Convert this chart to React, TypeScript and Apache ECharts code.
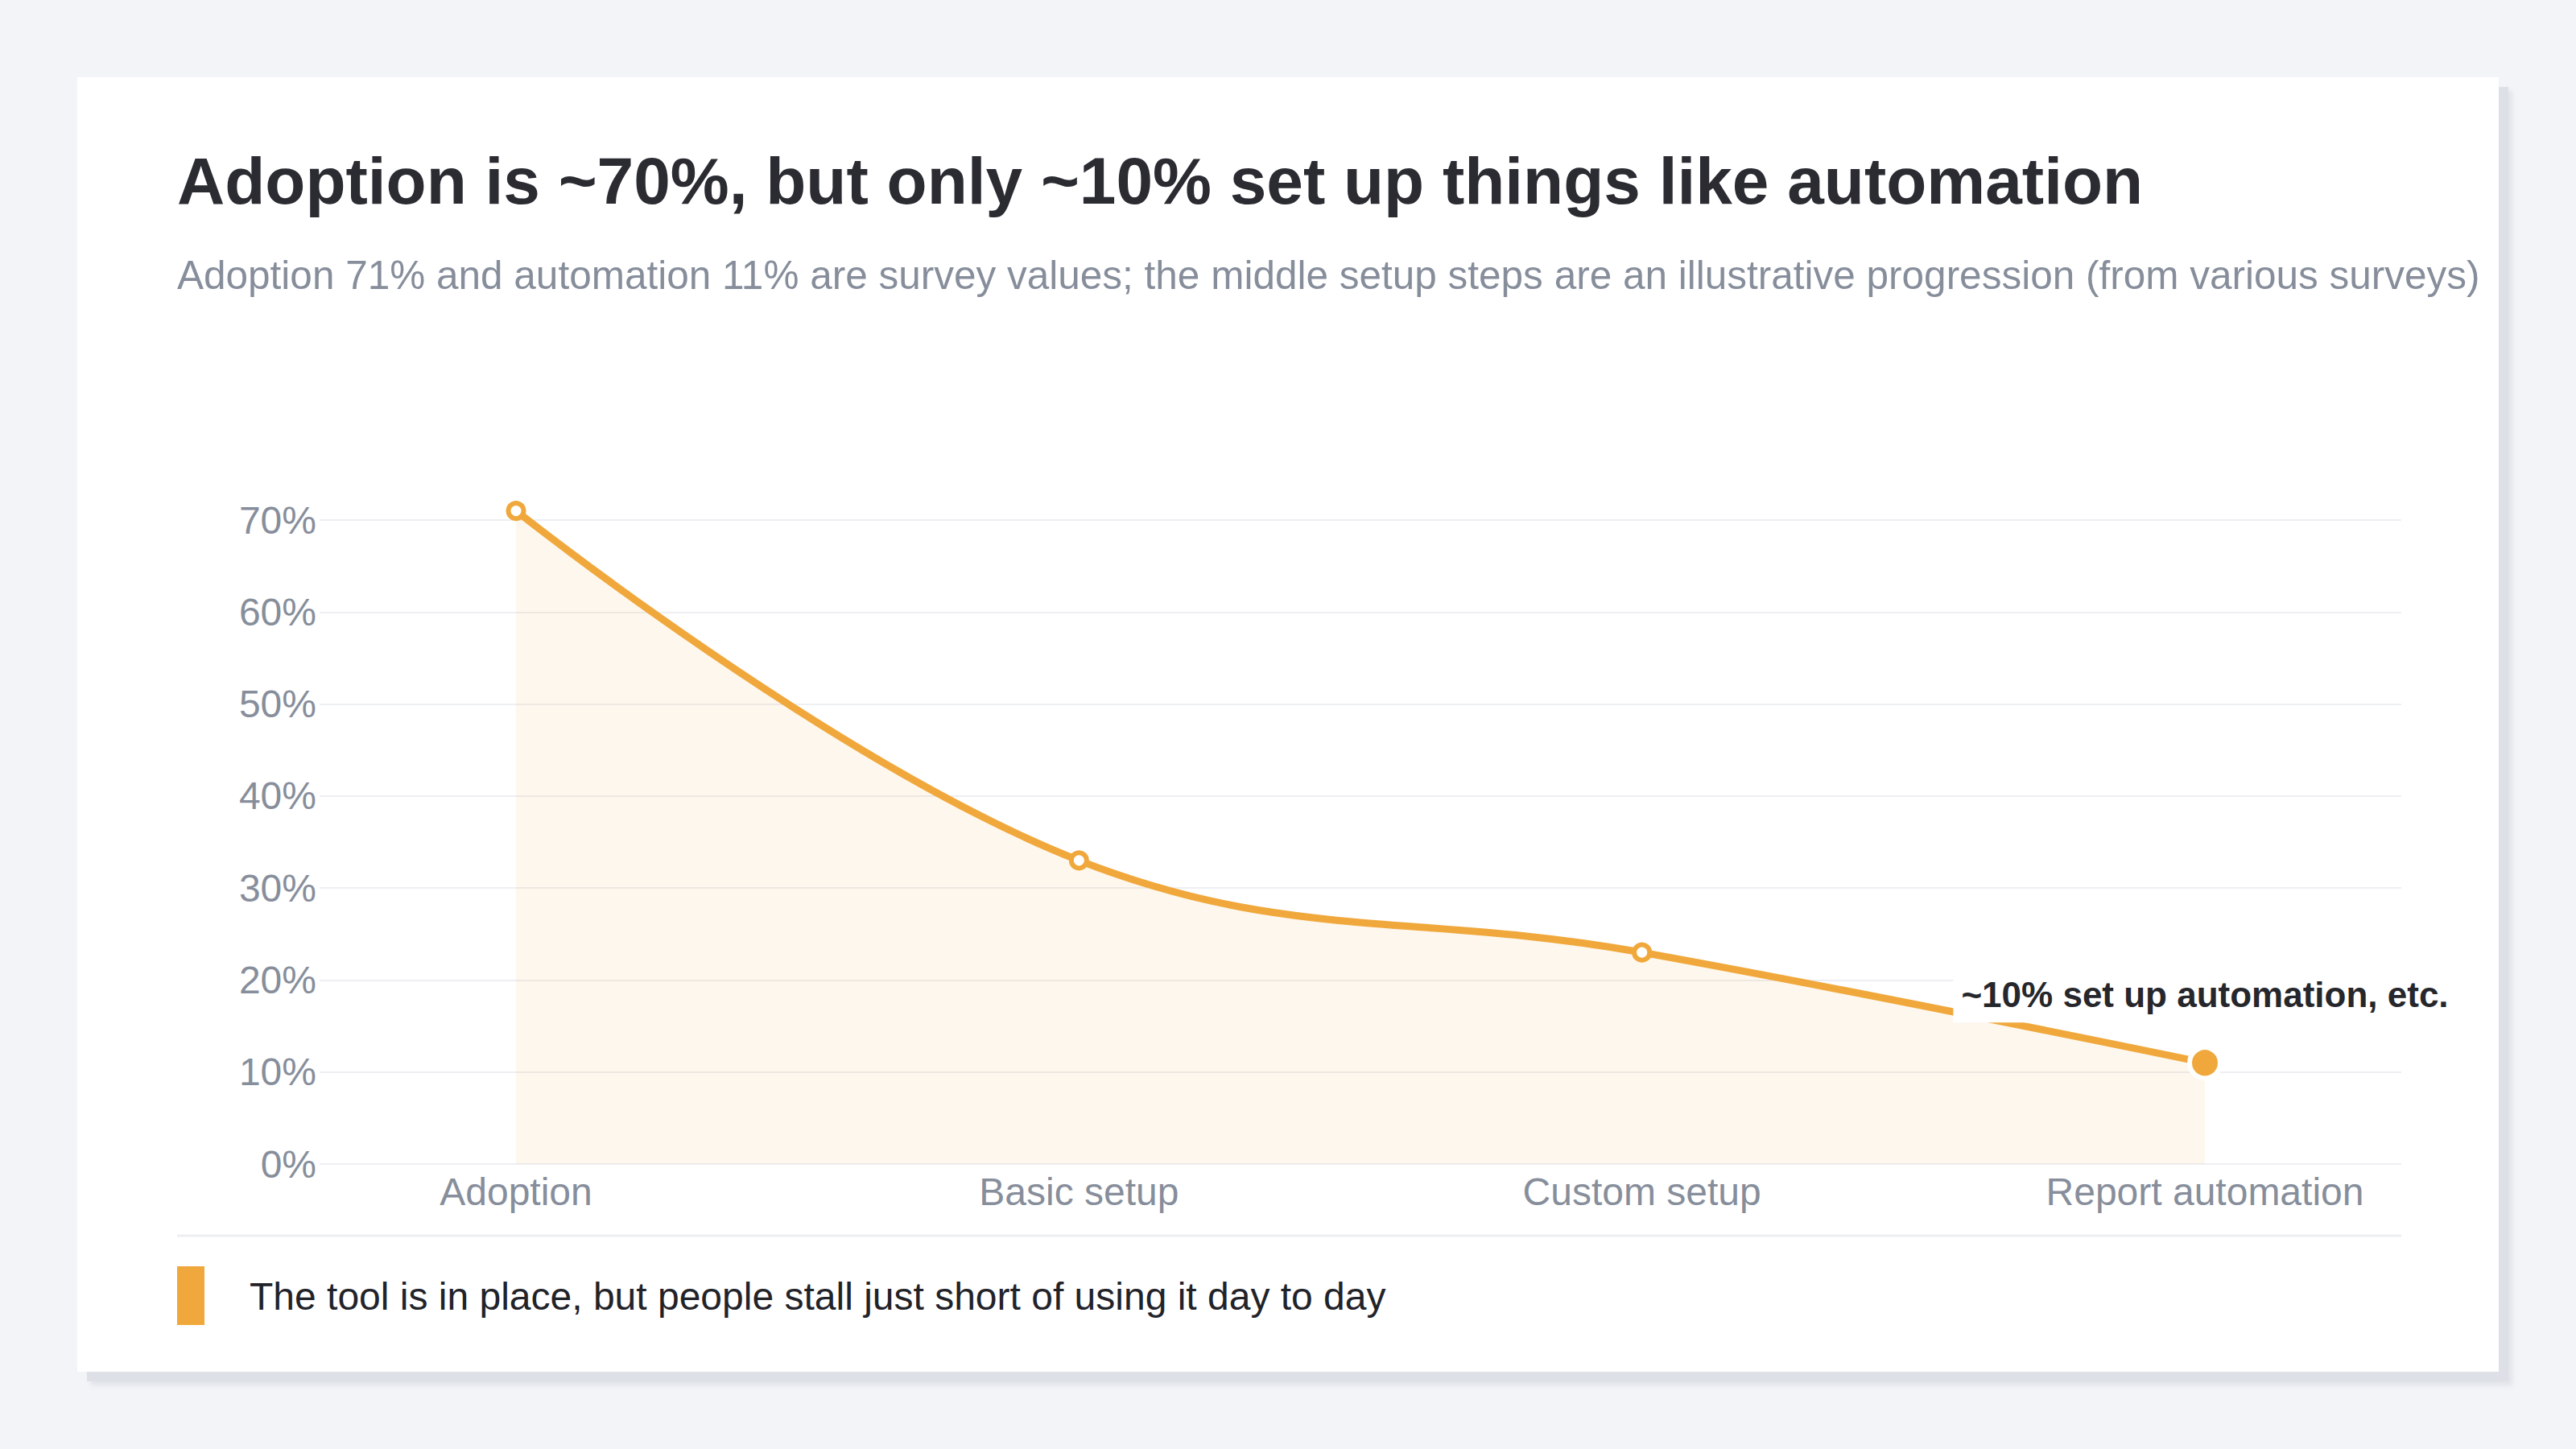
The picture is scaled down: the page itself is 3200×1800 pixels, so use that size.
import React, { useEffect, useRef } from "react";
import * as echarts from "echarts";

const categories = ["Adoption", "Basic setup", "Custom setup", "Report automation"];
const values = [71, 33, 23, 11];
const yTicks = [0, 10, 20, 30, 40, 50, 60, 70];
const titleText = "Adoption is ~70%, but only ~10% set up things like automation";
const subtitleText =
  "Adoption 71% and automation 11% are survey values; the middle setup steps are an illustrative progression (from various surveys)";
const legendText = "The tool is in place, but people stall just short of using it day to day";
const annotationText = "~10% set up automation, etc.";

const FONT = "'Liberation Sans', Arial, Helvetica, sans-serif";
const ORANGE = "#f0a83c";
const GRAY = "#878e9b";
const DARK = "#2a2c32";

export default function App() {
  const ref = useRef<HTMLDivElement>(null);

  useEffect(() => {
    if (!ref.current) return;
    const chart = echarts.init(ref.current, undefined, { renderer: "svg" });
    const last = values.length - 1;
    const yMin = yTicks[0];
    const yMax = yTicks[yTicks.length - 1];
    const yInterval = yTicks[1] - yTicks[0];

    const seriesData = values.map((v, i) =>
      i === last
        ? {
            value: v,
            symbol: "circle",
            symbolSize: 38,
            itemStyle: { color: ORANGE, borderColor: "#ffffff", borderWidth: 6 },
            label: {
              show: true,
              position: "top",
              distance: 35,
              formatter: "{c}",
              color: "rgba(240,168,60,0.16)",
              fontSize: 64,
              fontWeight: "bold",
              fontFamily: FONT,
            },
          }
        : v
    );

    chart.setOption({
      animation: false,
      backgroundColor: "#ffffff",
      grid: [
        { left: 301, right: 121, top: 550, bottom: 258 },
        { left: 545, right: 365, top: 550, bottom: 258 },
      ],
      xAxis: [
        { gridIndex: 0, type: "category", data: categories, show: false },
        {
          gridIndex: 1,
          type: "category",
          data: categories,
          boundaryGap: false,
          axisLine: { show: false },
          axisTick: { show: false },
          splitLine: { show: false },
          axisLabel: {
            margin: 10,
            color: GRAY,
            fontSize: 48,
            fontFamily: FONT,
            interval: 0,
          },
        },
      ],
      yAxis: [
        {
          gridIndex: 0,
          type: "value",
          min: yMin,
          max: yMax,
          interval: yInterval,
          axisLine: { show: false },
          axisTick: { show: false },
          axisLabel: {
            formatter: "{value}%",
            margin: 4,
            color: GRAY,
            fontSize: 48,
            fontFamily: FONT,
          },
          splitLine: { lineStyle: { color: "#edeff3", width: 2 } },
        },
        {
          gridIndex: 1,
          type: "value",
          min: yMin,
          max: yMax,
          interval: yInterval,
          show: false,
        },
      ],
      graphic: [
        {
          type: "text",
          x: 124,
          y: 128,
          style: {
            text: titleText,
            fill: DARK,
            font: `bold 82px ${FONT}`,
            verticalAlign: "middle",
            align: "left",
          },
        },
        {
          type: "text",
          x: 124,
          y: 245,
          style: {
            text: subtitleText,
            fill: GRAY,
            font: `49.5px ${FONT}`,
            verticalAlign: "middle",
            align: "left",
          },
        },
        {
          type: "line",
          shape: { x1: 124, y1: 1439, x2: 2887, y2: 1439 },
          style: { stroke: "#eceef2", lineWidth: 3 },
        },
        {
          type: "rect",
          shape: { x: 124, y: 1477, width: 34, height: 73 },
          style: { fill: ORANGE },
        },
        {
          type: "text",
          x: 214,
          y: 1514,
          style: {
            text: legendText,
            fill: "#222329",
            font: `48px ${FONT}`,
            verticalAlign: "middle",
            align: "left",
          },
        },
      ],
      series: [
        {
          name: legendText,
          type: "line",
          xAxisIndex: 1,
          yAxisIndex: 1,
          data: seriesData,
          smooth: 0.4,
          clip: false,
          symbol: "circle",
          symbolSize: 19,
          showAllSymbol: true,
          lineStyle: { color: ORANGE, width: 9 },
          itemStyle: { color: "#ffffff", borderColor: ORANGE, borderWidth: 6 },
          areaStyle: { color: "rgba(240,168,60,0.13)" },
          markPoint: {
            symbol: "circle",
            symbolSize: 0,
            silent: true,
            data: [{ coord: [categories[last], values[last]], value: values[last] }],
            label: {
              show: true,
              position: "top",
              distance: 50,
              formatter: annotationText,
              color: "#26272c",
              fontSize: 44,
              lineHeight: 44,
              fontWeight: "bold",
              fontFamily: FONT,
              backgroundColor: "#ffffff",
              padding: [12, 10, 13, 10],
            },
          },
        },
      ],
    });

    return () => chart.dispose();
  }, []);

  return (
    <div
      style={{
        position: "fixed",
        left: 0,
        top: 0,
        width: 3200,
        height: 1800,
        background: "#f3f4f8",
      }}
    >
      <div
        style={{
          position: "absolute",
          left: 96,
          top: 96,
          width: 3008,
          height: 1608,
          background: "#ffffff",
          boxShadow: "12px 12px 0 #dde0e6, 17px 17px 5px rgba(210,214,222,0.5)",
          overflow: "hidden",
        }}
      >
        <div ref={ref} style={{ width: 3008, height: 1608 }} />
      </div>
    </div>
  );
}
